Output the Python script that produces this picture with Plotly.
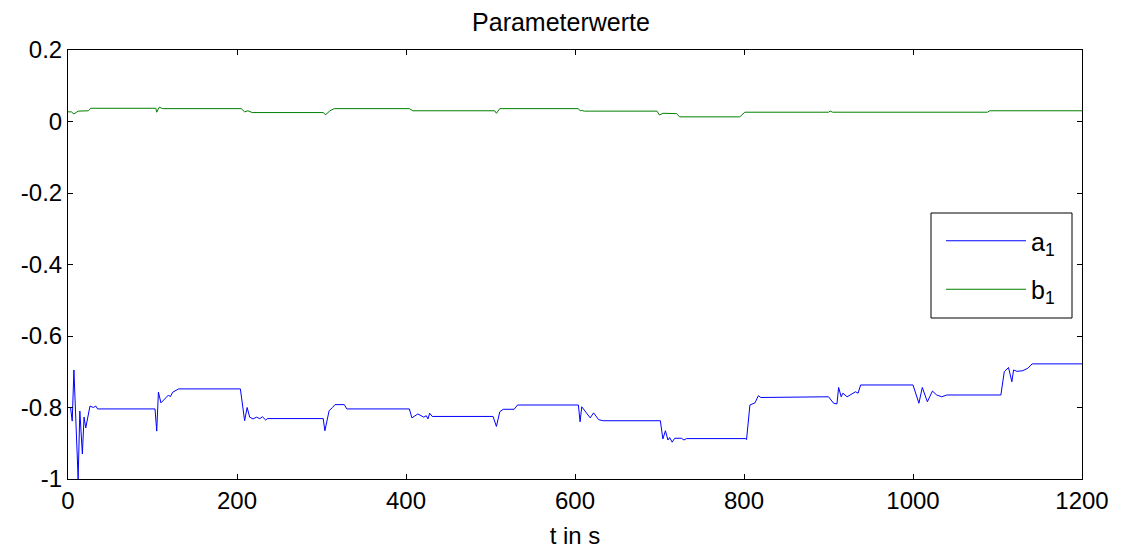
import plotly.graph_objects as go

# a_1 parameter trace
t_a = [0, 3, 5, 7, 12, 14, 17, 19, 21, 26, 30, 33, 35, 103, 105, 107, 110, 116, 119, 121, 124, 131,
       204, 209, 212, 215, 219, 223, 227, 230, 234, 236, 302, 304, 309, 313, 316, 327, 330,
       404, 407, 414, 421, 424, 426, 428, 431, 503, 507, 511, 515, 528, 532,
       604, 606, 608, 614, 618, 622, 628, 633, 701, 704, 707, 710, 712, 715, 718, 726, 729, 732,
       802, 803, 807, 813, 817, 820, 900, 906, 910, 912, 915, 917, 922, 932, 935, 938,
       1000, 1007, 1011, 1017, 1023, 1028, 1034, 1040, 1104, 1108, 1113, 1117, 1119, 1123, 1130, 1136, 1141, 1200]
a1 = [-0.80, -0.80, -0.838, -0.695, -1.0, -0.81, -0.93, -0.827, -0.857, -0.796, -0.800, -0.796, -0.804,
      -0.804, -0.866, -0.757, -0.787, -0.774, -0.765, -0.770, -0.757, -0.748,
      -0.748, -0.837, -0.800, -0.827, -0.832, -0.827, -0.831, -0.826, -0.835, -0.831,
      -0.831, -0.865, -0.809, -0.800, -0.792, -0.792, -0.804,
      -0.804, -0.829, -0.818, -0.827, -0.823, -0.832, -0.816, -0.825, -0.825, -0.853, -0.812, -0.805, -0.805, -0.793,
      -0.793, -0.840, -0.798, -0.816, -0.829, -0.815, -0.834, -0.837, -0.837, -0.888, -0.865, -0.891, -0.884,
      -0.897, -0.886, -0.886, -0.891, -0.887,
      -0.887, -0.890, -0.793, -0.787, -0.767, -0.772, -0.770, -0.788, -0.790, -0.744, -0.770, -0.760, -0.770,
      -0.756, -0.760, -0.737,
      -0.737, -0.788, -0.744, -0.784, -0.754, -0.765, -0.770, -0.765, -0.765, -0.700, -0.688, -0.728, -0.695,
      -0.699, -0.697, -0.690, -0.678, -0.678]

# b_1 parameter trace
t_b = [0, 4, 7, 12, 24, 27, 104, 105, 108, 112, 205, 209, 213, 218, 302, 305, 310, 315, 404, 408,
       505, 507, 511, 604, 606, 608, 611, 697, 700, 704, 720, 724, 795, 798, 801, 900, 902, 905, 1088, 1091, 1200]
b1 = [0.027, 0.027, 0.021, 0.029, 0.030, 0.037, 0.037, 0.026, 0.040, 0.036, 0.036, 0.027, 0.030, 0.025,
      0.025, 0.019, 0.030, 0.036, 0.036, 0.030, 0.030, 0.023, 0.036, 0.036, 0.030, 0.031, 0.029,
      0.029, 0.018, 0.023, 0.022, 0.013, 0.013, 0.021, 0.026, 0.026, 0.029, 0.026, 0.026, 0.030, 0.030]

x_ticks = [0, 200, 400, 600, 800, 1000, 1200]
y_ticks = [-1, -0.8, -0.6, -0.4, -0.2, 0, 0.2]
y_labels = ["-1", "-0.8", "-0.6", "-0.4", "-0.2", "0", "0.2"]

FONT = "Arial, Liberation Sans, sans-serif"
W, H = 1122, 549
ML, MR, MT, MB = 68, 40, 50, 70
PW, PH = W - ML - MR, H - MT - MB

fig = go.Figure()
fig.add_trace(go.Scatter(x=t_a, y=a1, mode="lines", name="a<sub>1</sub>",
                         line=dict(color="#0000FF", width=1), legendgroup="a"))
fig.add_trace(go.Scatter(x=t_b, y=b1, mode="lines", name="b<sub>1</sub>",
                         line=dict(color="#008000", width=1), legendgroup="b"))

axis_common = dict(showline=True, linecolor="black", linewidth=1, mirror="allticks",
                   ticks="inside", ticklen=5, tickcolor="black", showgrid=False, zeroline=False,
                   automargin=False,
                   tickfont=dict(family=FONT, size=24, color="black"))

# legend frame (MATLAB-style box around the legend entries)
box_l, box_r, box_t, box_b = 931, 1072, 213, 318
fig.add_shape(type="rect", xref="paper", yref="paper",
              x0=(box_l - ML) / PW, x1=(box_r - ML) / PW,
              y0=(H - MB - box_b) / PH, y1=(H - MB - box_t) / PH,
              line=dict(color="black", width=1), fillcolor="white", layer="above")

fig.update_layout(
    width=W, height=H,
    margin=dict(l=ML, r=MR, t=MT, b=MB),
    paper_bgcolor="white", plot_bgcolor="white",
    title=dict(text="Parameterwerte", x=0.5, xanchor="center", y=1 - 22 / H, yanchor="middle",
               font=dict(family=FONT, size=25, color="black")),
    xaxis=dict(range=[0, 1200], tickvals=x_ticks, ticktext=[str(v) for v in x_ticks],
               title=dict(text="t in s", font=dict(family=FONT, size=24, color="black"), standoff=14),
               **axis_common),
    yaxis=dict(range=[-1, 0.2], tickvals=y_ticks, ticktext=y_labels, **axis_common),
    legend=dict(x=(941 - ML) / PW, y=(H - MB - 218) / PH, xanchor="left", yanchor="top",
                borderwidth=0, bgcolor="rgba(0,0,0,0)",
                font=dict(family=FONT, size=25, color="black"),
                itemwidth=80, tracegroupgap=13, traceorder="grouped"),
    showlegend=True,
)

fig.write_html("out.html")
